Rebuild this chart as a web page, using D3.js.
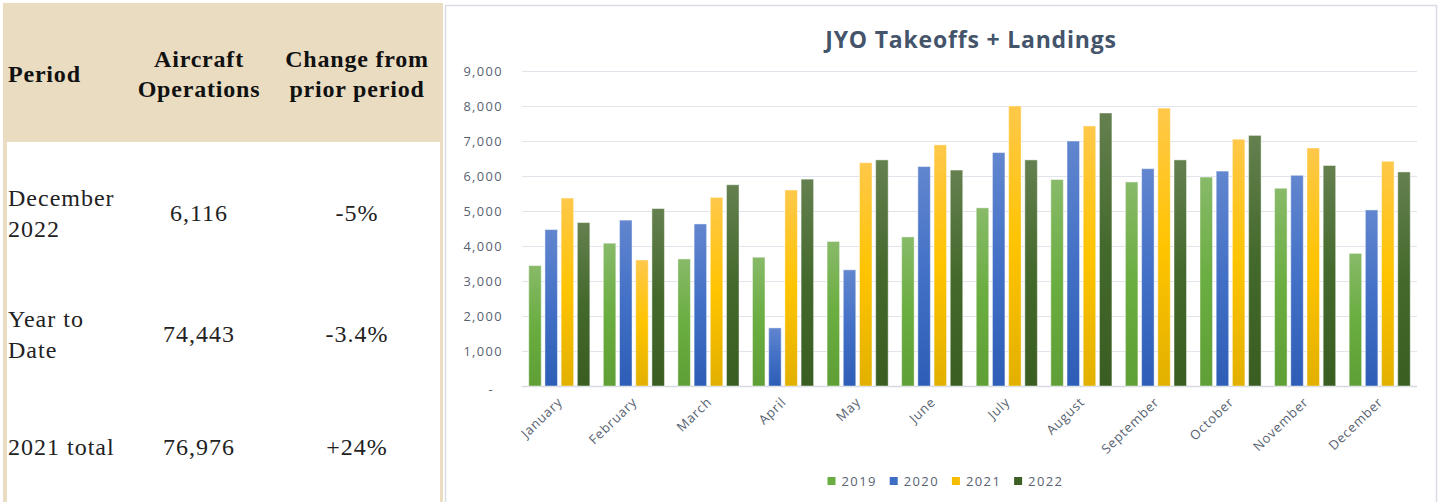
<!DOCTYPE html>
<html>
<head>
<meta charset="utf-8">
<script src="https://cdn.jsdelivr.net/npm/d3@7"></script>
<style>
  html, body { margin: 0; padding: 0; background: #ffffff; }
  svg { display: block; }
</style>
</head>
<body>
<svg id="chart" width="1440" height="502"></svg>
<script>
// ---------- data ----------
const months = ["January","February","March","April","May","June","July","August","September","October","November","December"];
const seriesNames = ["2019","2020","2021","2022"];
const ops2019 = [3440, 4080, 3630, 3680, 4130, 4260, 5090, 5900, 5830, 5970, 5650, 3790];
const ops2020 = [4470, 4740, 4630, 1660, 3320, 6270, 6670, 7000, 6210, 6140, 6020, 5030];
const ops2021 = [5370, 3600, 5390, 5600, 6380, 6890, 8000, 7430, 7940, 7050, 6800, 6420];
const ops2022 = [4670, 5070, 5750, 5910, 6460, 6170, 6460, 7800, 6460, 7160, 6300, 6116];
const yTicks = [0, 1000, 2000, 3000, 4000, 5000, 6000, 7000, 8000, 9000];
const chartTitle = "JYO Takeoffs + Landings";

const tableHeaders = [["Period"], ["Aircraft", "Operations"], ["Change from", "prior period"]];
const tablePeriods = [["December", "2022"], ["Year to", "Date"], ["2021 total"]];
const tableOps = ["6,116", "74,443", "76,976"];
const tableChange = ["-5%", "-3.4%", "+24%"];

// ---------- styles ----------
const seriesData = [ops2019, ops2020, ops2021, ops2022];
const gradStops = [
  ["#88ba69", "#6aad40", "#5f9f36"],
  ["#6286cf", "#4270c6", "#2d5db6"],
  ["#ffc84a", "#ffc400", "#e2b000"],
  ["#64804f", "#44692c", "#3a5d22"]
];
const legendColors = ["#6aad40", "#3f6cc4", "#f5bc00", "#3d6125"];
const textGray = "#586270";

const svg = d3.select("#chart");
const defs = svg.append("defs");
gradStops.forEach((s, i) => {
  const g = defs.append("linearGradient").attr("id", "g" + i)
    .attr("x1", 0).attr("y1", 0).attr("x2", 0).attr("y2", 1);
  g.append("stop").attr("offset", "0%").attr("stop-color", s[0]);
  g.append("stop").attr("offset", "50%").attr("stop-color", s[1]);
  g.append("stop").attr("offset", "100%").attr("stop-color", s[2]);
});

// ---------- left table ----------
const tan = "#e9dcc1";
svg.append("rect").attr("x", 3).attr("y", 3).attr("width", 440).attr("height", 499).attr("fill", tan);
svg.append("rect").attr("x", 7).attr("y", 142).attr("width", 433).attr("height", 360).attr("fill", "#ffffff");

const serif = "'Liberation Serif', 'Times New Roman', serif";
const colX = [8, 199, 357];
const hdr = svg.append("g").attr("font-family", serif).attr("font-weight", "bold")
  .attr("font-size", 24).attr("fill", "#111").style("letter-spacing", "0.8px");
hdr.append("text").attr("x", colX[0]).attr("y", 82).text(tableHeaders[0][0]);
[1, 2].forEach(c => {
  tableHeaders[c].forEach((line, k) => {
    hdr.append("text").attr("x", colX[c]).attr("y", 67 + k * 30)
      .attr("text-anchor", "middle").text(line);
  });
});

const body = svg.append("g").attr("font-family", serif).attr("font-size", 24)
  .attr("fill", "#222").style("letter-spacing", "1px");
const rowMid = [221, 342, 455];
tablePeriods.forEach((lines, r) => {
  const y0 = lines.length === 2 ? rowMid[r] - 15 : rowMid[r];
  lines.forEach((line, k) => {
    body.append("text").attr("x", colX[0]).attr("y", y0 + k * 31).text(line);
  });
  body.append("text").attr("x", colX[1]).attr("y", rowMid[r]).attr("text-anchor", "middle").text(tableOps[r]);
  body.append("text").attr("x", colX[2]).attr("y", rowMid[r]).attr("text-anchor", "middle").text(tableChange[r]);
});

// ---------- chart frame ----------
svg.append("rect").attr("x", 445.5).attr("y", 5.5).attr("width", 991).attr("height", 510)
  .attr("fill", "#ffffff").attr("stroke", "#d9dde3").attr("stroke-width", 1.5);

const plotL = 522, plotR = 1417, plotT = 71, plotB = 386;
const y = d3.scaleLinear().domain([0, 9000]).range([plotB, plotT]);
const x0 = d3.scaleBand().domain(months).range([plotL, plotR]).padding(0);
const x1 = d3.scaleBand().domain(seriesNames).range([0, x0.bandwidth()])
  .paddingInner(0.228).paddingOuter(0.416);

const sans = "'Open Sans', 'Noto Sans', sans-serif";

// gridlines
const grid = svg.append("g").attr("transform", `translate(${plotL},0)`)
  .call(d3.axisLeft(y).tickValues(yTicks).tickSize(-(plotR - plotL)).tickFormat(""));
grid.select(".domain").remove();
grid.selectAll(".tick line").attr("stroke", d => d === 0 ? "#d5d9df" : "#e1e5eb")
  .attr("stroke-width", d => d === 0 ? 1.5 : 1.2);

// y labels
const yAx = svg.append("g").attr("transform", `translate(${plotL},0)`)
  .call(d3.axisLeft(y).tickValues(yTicks).tickSize(0).tickPadding(19)
    .tickFormat(d => d === 0 ? "-" : d3.format(",")(d)));
yAx.select(".domain").remove();
yAx.selectAll("text").attr("font-family", sans).attr("font-size", 12.8)
  .attr("fill", textGray).style("letter-spacing", "1.4px");
yAx.selectAll(".tick").filter(d => d === 0).select("text").attr("x", -28).attr("dy", "0.6em");

// bars
const groups = svg.append("g").selectAll("g").data(months).join("g")
  .attr("transform", d => `translate(${x0(d)},0)`);
groups.selectAll("rect")
  .data((m, i) => seriesNames.map((s, k) => ({ s, k, v: seriesData[k][i] })))
  .join("rect")
  .attr("x", d => x1(d.s))
  .attr("y", d => y(d.v))
  .attr("width", x1.bandwidth())
  .attr("height", d => y(0) - y(d.v))
  .attr("fill", d => `url(#g${d.k})`)
  .attr("stroke", "rgba(255,255,255,0.45)")
  .attr("stroke-width", 1);

// x labels
const xAx = svg.append("g").attr("transform", `translate(0,${plotB})`)
  .call(d3.axisBottom(x0).tickSize(0));
xAx.select(".domain").remove();
xAx.selectAll("text")
  .attr("font-family", sans).attr("font-size", 13).attr("fill", textGray)
  .style("letter-spacing", "0.8px")
  .attr("text-anchor", "end")
  .attr("x", 0).attr("y", 0).attr("dy", 0)
  .attr("transform", "translate(4,17) rotate(-44)");

// title
svg.append("text").attr("x", 971).attr("y", 48).attr("text-anchor", "middle")
  .attr("font-family", sans).attr("font-weight", "bold").attr("font-size", 23)
  .attr("fill", "#44546a").style("letter-spacing", "0.8px").text(chartTitle);

// legend
const leg = svg.append("g").selectAll("g").data(seriesNames).join("g")
  .attr("transform", (d, i) => `translate(${827.5 + i * 62.2},477)`);
leg.append("rect").attr("width", 8).attr("height", 8).attr("fill", (d, i) => legendColors[i]);
leg.append("text").attr("x", 14).attr("y", 8.8).attr("font-family", sans)
  .attr("font-size", 13).attr("fill", textGray).style("letter-spacing", "1.4px").text(d => d);
</script>
</body>
</html>
